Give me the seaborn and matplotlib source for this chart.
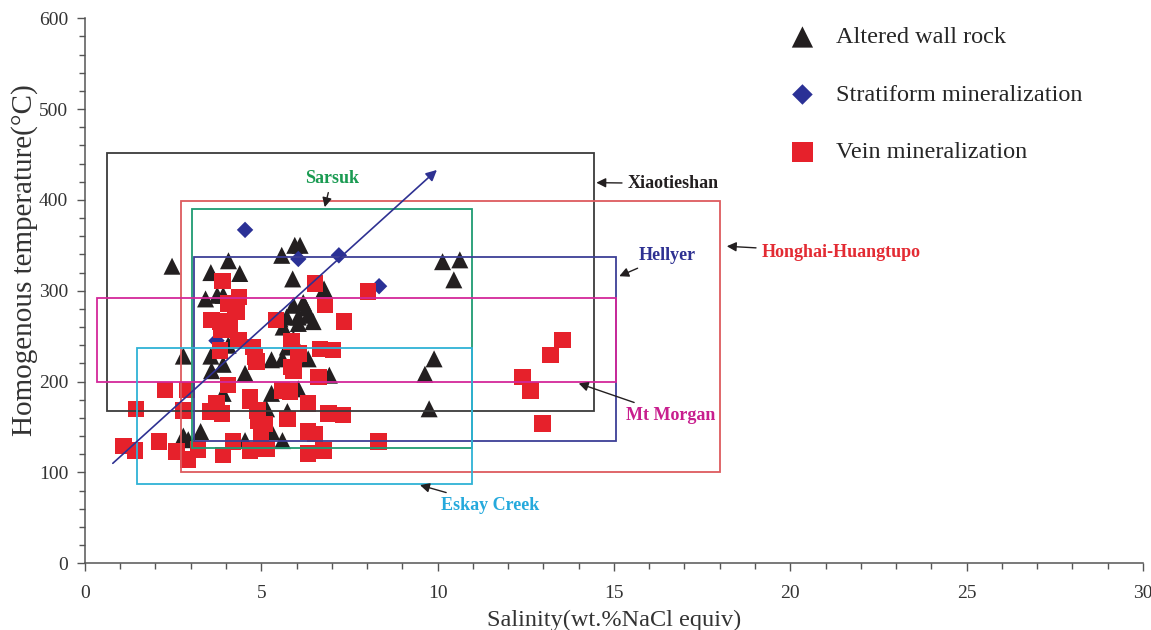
import matplotlib
matplotlib.use("Agg")
import matplotlib.pyplot as plt
from matplotlib.patches import Rectangle
from matplotlib.ticker import MultipleLocator
import seaborn as sns

# ---- fluid inclusion data: salinity (wt.% NaCl equiv) and homogenization temperature (°C)
wall_sal = [2.47, 2.79, 2.79, 2.93, 3.28, 3.42, 3.57, 3.75, 3.92, 4.07, 4.39, 4.22,
            4.06, 3.57, 3.92, 3.59, 4.54, 3.92, 5.29, 5.60, 5.29, 5.15, 5.74, 5.29,
            4.54, 5.60, 5.95, 6.10, 5.58, 5.89, 6.78, 5.91, 6.19, 6.27, 5.53, 5.72,
            6.05, 6.33, 6.47, 5.62, 6.05, 5.91, 5.74, 6.33, 6.93, 6.05, 10.14, 10.63,
            10.46, 9.90, 9.64, 9.76]
wall_temp = [327, 228, 140, 136, 145, 291, 320, 295, 295, 333, 319, 247,
             240, 228, 219, 212, 209, 187, 224, 225, 187, 170, 167, 145,
             135, 135, 350, 350, 339, 313, 302, 284, 287, 281, 269, 271,
             271, 273, 266, 260, 264, 247, 238, 225, 207, 192, 332, 334,
             312, 225, 208, 170]

strat_sal = [4.54, 3.73, 6.05, 7.20, 8.34]
strat_temp = [367, 245, 335, 339, 305]

vein_sal = [1.09, 1.42, 1.45, 2.10, 2.27, 2.60, 2.90, 2.79, 2.93, 3.20, 3.54, 3.88,
            3.73, 3.92, 4.20, 4.68, 5.15, 4.68, 4.89, 4.90, 5.10, 5.00, 5.74, 6.33,
            6.90, 7.32, 6.33, 6.52, 6.33, 6.76, 8.32, 4.06, 4.68, 5.58, 5.81, 3.90,
            4.37, 4.06, 4.25, 4.30, 3.59, 3.83, 4.11, 3.87, 4.35, 4.77, 4.82, 3.83,
            5.42, 6.52, 6.80, 7.35, 5.86, 6.05, 6.66, 7.04, 5.86, 5.91, 6.62, 8.03,
            4.87, 13.54, 13.20, 12.41, 12.64, 12.98]
vein_temp = [129, 124, 170, 134, 191, 123, 191, 168, 114, 125, 167, 165,
             176, 119, 134, 124, 126, 179, 168, 157, 153, 141, 159, 176,
             165, 163, 145, 142, 121, 124, 134, 196, 183, 190, 189, 311,
             293, 286, 282, 277, 268, 266, 262, 257, 245, 238, 227, 234,
             268, 308, 284, 266, 244, 231, 236, 235, 216, 212, 205, 299,
             222, 246, 229, 205, 190, 154]

# ---- reference deposit fields: (salinity min, salinity max, temperature min, temperature max)
field_names = ["Xiaotieshan", "Honghai-Huangtupo", "Sarsuk", "Hellyer", "Mt Morgan", "Eskay Creek"]
field_sal_min = [0.62, 2.72, 3.03, 3.10, 0.35, 1.47]
field_sal_max = [14.43, 18.00, 10.97, 15.06, 15.06, 10.97]
field_temp_min = [168, 100, 127, 135, 199, 87]
field_temp_max = [452, 399, 390, 337, 292, 237]
field_colors = ["#3b3b3b", "#dd5a5e", "#1f9b72", "#3d3f96", "#d3279a", "#2fb2d6"]
label_colors = ["#231f20", "#e32b33", "#1a9b52", "#2e3192", "#c81e8e", "#25a9dc"]
# label anchor (x, y) and arrow head (x, y) for each field name
label_pos = [(15.4, 418), (19.2, 342), (7.0, 424), (15.7, 339), (15.35, 163), (10.1, 64)]
arrow_head = [(14.50, 419), (18.20, 349), (6.80, 392), (15.15, 316), (14.00, 198), (9.50, 86)]
label_align = ["left", "left", "center", "left", "left", "left"]

# ---- regression trend arrow
trend_sal = [0.79, 9.98]
trend_temp = [110, 433]

sns.set_style("ticks")
plt.rcParams["font.family"] = ["Liberation Serif", "DejaVu Serif"]

fig, ax = plt.subplots(figsize=(11.51, 6.3), dpi=100)
fig.subplots_adjust(left=0.0738, right=0.993, bottom=0.106, top=0.971)

sns.scatterplot(x=wall_sal, y=wall_temp, marker="^", s=150, color="#231f20",
                edgecolor="none", linewidth=0, label="Altered wall rock", ax=ax, zorder=2)
sns.scatterplot(x=strat_sal, y=strat_temp, marker="D", s=70, color="#2b3196",
                edgecolor="none", linewidth=0, label="Stratiform mineralization", ax=ax, zorder=2)
sns.scatterplot(x=vein_sal, y=vein_temp, marker="s", s=140, color="#e6212b",
                edgecolor="none", linewidth=0, label="Vein mineralization", ax=ax, zorder=2)

for i in range(len(field_names)):
    ax.add_patch(Rectangle((field_sal_min[i], field_temp_min[i]),
                           field_sal_max[i] - field_sal_min[i],
                           field_temp_max[i] - field_temp_min[i],
                           fill=False, edgecolor=field_colors[i], lw=1.3, zorder=3))
    ax.annotate(field_names[i], xy=arrow_head[i], xytext=label_pos[i],
                ha=label_align[i], va="center", fontsize=13, fontweight="bold",
                color=label_colors[i],
                arrowprops=dict(arrowstyle="-|>", color="#231f20", lw=1.0,
                                mutation_scale=14, shrinkA=2, shrinkB=0),
                zorder=4)

ax.annotate("", xy=(trend_sal[1], trend_temp[1]), xytext=(trend_sal[0], trend_temp[0]),
            arrowprops=dict(arrowstyle="-|>", color="#2e3192", lw=1.2,
                            mutation_scale=16, shrinkA=0, shrinkB=0), zorder=4)

ax.set_xlim(0, 30)
ax.set_ylim(0, 600)
ax.xaxis.set_major_locator(MultipleLocator(5))
ax.xaxis.set_minor_locator(MultipleLocator(1))
ax.yaxis.set_major_locator(MultipleLocator(100))
ax.yaxis.set_minor_locator(MultipleLocator(20))
ax.tick_params(axis="both", which="major", direction="out", length=6, width=1,
               color="#555555", labelsize=14, labelcolor="#333333")
ax.tick_params(axis="both", which="minor", direction="out", length=4, width=1,
               color="#555555")
ax.tick_params(axis="x", which="major", pad=10)
ax.tick_params(axis="y", which="major", pad=6)
for side in ["left", "bottom"]:
    ax.spines[side].set_color("#555555")
    ax.spines[side].set_linewidth(1.1)
sns.despine(ax=ax)

ax.set_xlabel("Salinity(wt.%NaCl equiv)", fontsize=17.5, color="#333333", labelpad=5)
ax.set_ylabel("Homogenous temperature(°C)", fontsize=21, color="#333333")
ax.yaxis.set_label_coords(-0.044, 0.556)

ax.legend(loc="upper left", bbox_to_anchor=(0.646, 1.003), frameon=False, fontsize=17.5,
          labelspacing=1.46, handletextpad=0.4, markerscale=1.25, borderaxespad=0)

fig.savefig("out.png", dpi=100)
